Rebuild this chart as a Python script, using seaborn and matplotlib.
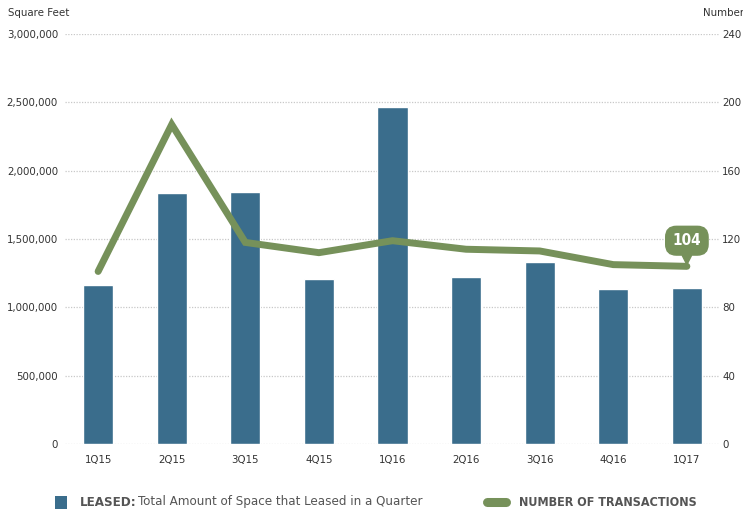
import numpy as np
import pandas as pd
import matplotlib
matplotlib.use("Agg")
import matplotlib.pyplot as plt
import seaborn as sns
from matplotlib.patches import Rectangle
from matplotlib.lines import Line2D
from matplotlib.ticker import FuncFormatter

quarters = ["1Q15", "2Q15", "3Q15", "4Q15", "1Q16", "2Q16", "3Q16", "4Q16", "1Q17"]
leased_sqft = [1163000, 1836000, 1843000, 1207000, 2468000, 1222000, 1332000, 1134000, 1141000]
transactions = [101, 187, 118, 112, 119, 114, 113, 105, 104]
left_ticks = [0, 500000, 1000000, 1500000, 2000000, 2500000, 3000000]
right_ticks = [0, 40, 80, 120, 160, 200, 240]

BAR = "#3a6d8c"
GREEN = "#76915a"
TXT = "#333333"
LEG = "#555555"
GRID = "#c8c8c8"

sns.set_theme(style="white")
plt.rcParams["font.family"] = ["DejaVu Sans"]
plt.rcParams["font.stretch"] = "condensed"

fig = plt.figure(figsize=(7.43, 5.14), dpi=100)
ax = fig.add_axes([65 / 743, 1 - 444 / 514, (720 - 65) / 743, 410 / 514])

df = pd.DataFrame({"quarter": quarters, "leased": leased_sqft, "tx": transactions})
sns.barplot(data=df, x="quarter", y="leased", color=BAR, width=0.41, saturation=1, ax=ax)
ax.set_xlim(-0.45, 8.45)
ax.set_ylim(0, 3000000)
ax.set_yticks(left_ticks)
ax.yaxis.set_major_formatter(FuncFormatter(lambda v, p: f"{int(v):,}"))
ax.set_xlabel("")
ax.set_ylabel("")
for s in ax.spines.values():
    s.set_visible(False)
ax.tick_params(axis="both", length=0, colors=TXT, labelsize=8.2)
ax.tick_params(axis="y", pad=5)
ax.tick_params(axis="x", pad=8)
for y in left_ticks:
    ax.axhline(y, color=GRID, lw=0.9, ls=(0, (1, 1.2)), zorder=0)
ax.set_axisbelow(True)

ax2 = ax.twinx()
sns.lineplot(x=np.arange(len(quarters)), y=transactions, color=GREEN, lw=5,
             solid_joinstyle="miter", solid_capstyle="round", ax=ax2)
ax2.set_ylim(0, 240)
ax2.set_yticks(right_ticks)
ax2.set_ylabel("")
for s in ax2.spines.values():
    s.set_visible(False)
ax2.tick_params(axis="y", length=0, colors=TXT, labelsize=8.2, pad=1.5)
ax.set_xlim(-0.45, 8.45)

ax2.annotate(str(transactions[-1]), xy=(8, transactions[-1] + 1), xytext=(8, 119),
             ha="center", va="center", color="white", fontsize=11, fontweight="bold",
             bbox=dict(boxstyle="round,pad=0.45,rounding_size=0.7", fc=GREEN, ec=GREEN),
             arrowprops=dict(arrowstyle="wedge,tail_width=0.6,shrink_factor=0.5",
                             fc=GREEN, ec=GREEN, shrinkA=0, shrinkB=0))

fig.text(8 / 743, 1 - 13 / 514, "Square Feet", ha="left", va="center", color=TXT, fontsize=8.2)
fig.text(703 / 743, 1 - 13 / 514, "Number", ha="left", va="center", color=TXT, fontsize=8.2)

# legend
fig.patches.append(Rectangle((55 / 743, 1 - 509 / 514), 12 / 743, 13 / 514,
                             transform=fig.transFigure, fc=BAR, ec="none"))
t1 = fig.text(80 / 743, 1 - 502 / 514, "LEASED:", ha="left", va="center",
              color=LEG, fontsize=9.5, fontweight="bold")
fig.text(138 / 743, 1 - 502 / 514, "Total Amount of Space that Leased in a Quarter",
         ha="left", va="center", color=LEG, fontsize=9.5)
fig.lines.append(Line2D([487 / 743, 506 / 743], [1 - 502 / 514, 1 - 502 / 514],
                        transform=fig.transFigure, color=GREEN, lw=6.5, solid_capstyle="round"))
fig.text(519 / 743, 1 - 502 / 514, "NUMBER OF TRANSACTIONS", ha="left", va="center",
         color=LEG, fontsize=9, fontweight="bold")

fig.savefig("out.png", dpi=100)
